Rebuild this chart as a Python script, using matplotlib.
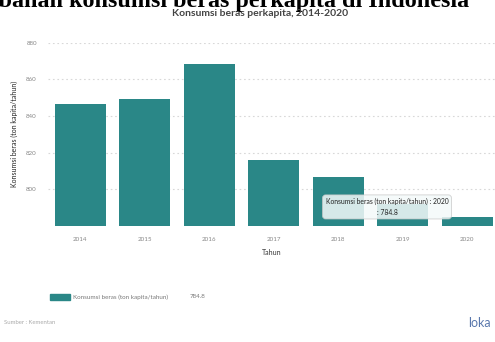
import matplotlib
matplotlib.use("Agg")
import matplotlib.pyplot as plt
from matplotlib.patches import Patch

# data
years = ["2014", "2015", "2016", "2017", "2018", "2019", "2020"]
consumption = [846.6, 849.1, 868.2, 816.0, 806.6, 792.0, 784.8]
y_ticks = [800, 820, 840, 860, 880]

BAR_COLOR = "#2a8787"
W, H = 495, 342

plt.rcParams["font.family"] = ["Lato", "DejaVu Sans"]

fig = plt.figure(figsize=(W / 100, H / 100), dpi=100)
ax = fig.add_axes([48 / W, 1 - 226 / H, 447 / W, (226 - 42.7) / H])

x = range(len(years))
ax.bar(x, consumption, width=0.79, color=BAR_COLOR, zorder=2)
ax.set_xlim(-0.5, 6.43)
ax.set_ylim(780, 880)
ax.set_xticks(list(x))
ax.set_xticklabels(years)
ax.set_yticks(y_ticks)
ax.tick_params(axis="both", length=0, labelsize=4.5, colors="#888888")
ax.tick_params(axis="x", pad=8)
ax.tick_params(axis="y", pad=8)
ax.grid(axis="y", linestyle=(0, (1.5, 2.5)), color="#d8d8d8", linewidth=0.8, zorder=0)
for side in ax.spines.values():
    side.set_visible(False)

ax.set_xlabel("Tahun", fontsize=5, color="#333333", labelpad=5)
ax.set_ylabel("Konsumsi beras (ton kapita/tahun)", fontsize=5, color="#222222", labelpad=6)

# titles (top one is cut off by the image edge, as in the screenshot)
fig.text(209 / W, 1 - 7.5 / H, "Perubahan konsumsi beras perkapita di Indonesia",
         family="Liberation Serif", weight="bold", fontsize=17.4,
         ha="center", va="baseline", color="black")
fig.text(260 / W, 1 - 13 / H, "Konsumsi beras perkapita, 2014-2020",
         fontsize=7.5, weight="bold", color="#444444", ha="center", va="center")

# tooltip over the 2020 bar
ax.annotate("Konsumsi beras (ton kapita/tahun) : 2020\n: 784.8",
            xy=(5.93, consumption[-1] + 3), xycoords="data",
            xytext=(387 / W, 1 - 207 / H), textcoords="figure fraction",
            ha="center", va="center", fontsize=4.9, color="#222222",
            linespacing=1.6,
            bbox=dict(boxstyle="round,pad=0.45", fc="#f4fafa", ec="#c8c8c8",
                      lw=0.6, alpha=0.85),
            zorder=5)

# legend
fig.legend(handles=[Patch(color=BAR_COLOR, label="Konsumsi beras (ton kapita/tahun)")],
           loc="center left", bbox_to_anchor=(44 / W, 1 - 297 / H), frameon=False,
           fontsize=4.5, handlelength=3.2, handleheight=1.3, handletextpad=0.5,
           labelcolor="#777777")
fig.text(190 / W, 1 - 297 / H, f"{consumption[-1]}", fontsize=4.5,
         color="#777777", va="center")

fig.text(4 / W, 1 - 323 / H, "Sumber : Kementan", fontsize=4.3, color="#aaaaaa",
         va="center")
fig.text(491 / W, 1 - 323 / H, "loka", fontsize=9, color="#5a78ad",
         ha="right", va="center")

fig.savefig("out.png", dpi=100, facecolor="white")
